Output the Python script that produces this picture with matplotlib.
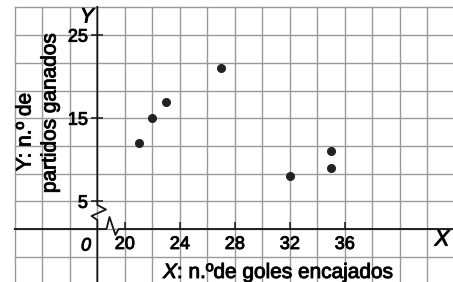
import numpy as np
import matplotlib.pyplot as plt
import matplotlib.patheffects as pe

plt.rcParams['font.family'] = ['Liberation Sans', 'DejaVu Sans']

# datos: goles encajados (X) y partidos ganados (Y)
goles = [21, 22, 23, 27, 32, 35, 35]
ganados = [12, 15, 17, 21, 8, 11, 9]

xticks = [20, 24, 28, 32, 36]
yticks = [5, 15, 25]


# escalas con corte: de 0 a 20 ocupa un cuadro en X, de 0 a 5 un cuadro en Y
def fx(x):
    x = np.asarray(x, dtype=float)
    return np.where(x < 20, x / 20, 1 + (x - 20) / 2)


def ifx(u):
    u = np.asarray(u, dtype=float)
    return np.where(u < 1, u * 20, 20 + (u - 1) * 2)


def fy(y):
    y = np.asarray(y, dtype=float)
    return np.where(y < 5, y / 5, 1 + (y - 5) * 0.3)


def ify(v):
    v = np.asarray(v, dtype=float)
    return np.where(v < 1, v * 5, 5 + (v - 1) / 0.3)


W, H = 453, 282
fig = plt.figure(figsize=(W / 100, H / 100), dpi=100)
ax = fig.add_axes([0, 0, 1, 1])
ax.set_xscale('function', functions=(fx, ifx))
ax.set_yscale('function', functions=(fy, ify))

x0, sx = 97.3, 27.5   # px del eje Y y px por cuadro
y0, sy = 229, 27.7    # px del eje X y px por cuadro
ax.set_xlim(float(ifx(-x0 / sx)), float(ifx((W - x0) / sx)))
ax.set_ylim(float(ify(-(H - y0) / sy)), float(ify(y0 / sy)))

# transformacion en "cuadros" de la cuadricula
g = ax.transLimits + ax.transAxes

def pu(px):
    return (px - x0) / sx

def pv(py):
    return (y0 - py) / sy

# cuadricula
gc = '#9a9a9a'
for u in range(-3, 14):
    ax.plot([u, u], [-3, 8], color=gc, lw=1, transform=g, zorder=1)
for v in range(-1, 9):
    ax.plot([-3, 14], [v, v], color=gc, lw=1, transform=g, zorder=1)

# ejes con corte
ak = '#151515'
ax.plot([0, 0, pu(106), pu(91.5), 0, 0],
        [8.02, pv(205), pv(209.5), pv(216), pv(220), -3],
        color=ak, lw=1.3, transform=g, zorder=3)
ax.plot([-3, pu(106.5), pu(109.5), pu(115.5), pu(118.5), 14],
        [0, 0, pv(217), pv(235), 0, 0],
        color=ak, lw=1.3, transform=g, zorder=3)

for s in ax.spines.values():
    s.set_visible(False)
ax.spines['left'].set_position(('data', 0))
ax.spines['bottom'].set_position(('data', 0))

ax.set_xticks(xticks)
ax.set_yticks(yticks)
ax.xaxis.set_minor_locator(plt.NullLocator())
ax.yaxis.set_minor_locator(plt.NullLocator())
ax.tick_params(axis='x', direction='in', length=5, width=1.1, pad=5,
               labelsize=13, color=ak)
ax.tick_params(axis='y', direction='inout', length=8.6, width=1.1, pad=2.5,
               labelsize=13, color=ak)

# trazo un poco mas grueso como en el original
grueso = [pe.withStroke(linewidth=0.7, foreground='#111111')]
for lab in ax.get_xticklabels() + ax.get_yticklabels():
    lab.set_path_effects(grueso)

# puntos
ax.plot(goles, ganados, 'o', color='#222222', ms=5.5, zorder=5)

# textos
ax.text(pu(86), pv(246), '0', transform=g, style='italic', fontsize=13,
        ha='center', va='center', path_effects=grueso)
ax.text(pu(87), pv(17), 'Y', transform=g, style='italic', fontsize=15,
        ha='center', va='center', path_effects=grueso)
ax.text(pu(442), pv(240), 'X', transform=g, style='italic', fontsize=16,
        ha='center', va='center', path_effects=grueso)

fig.text(25 / W, 1 - 132 / H, 'Y: n.º de', rotation=90, fontsize=15,
         ha='center', va='center', path_effects=grueso)
fig.text(50 / W, 1 - 113 / H, 'partidos ganados', rotation=90, fontsize=15,
         ha='center', va='center', path_effects=grueso)

t1 = fig.text(163 / W, 1 - 282 / H, 'X', style='italic', fontsize=15,
              ha='left', va='bottom', path_effects=grueso)
ax.annotate(': n.ºde goles encajados', xy=(1, 0), xycoords=t1,
            fontsize=15, ha='left', va='bottom', path_effects=grueso)

fig.savefig('out.png', dpi=100)
